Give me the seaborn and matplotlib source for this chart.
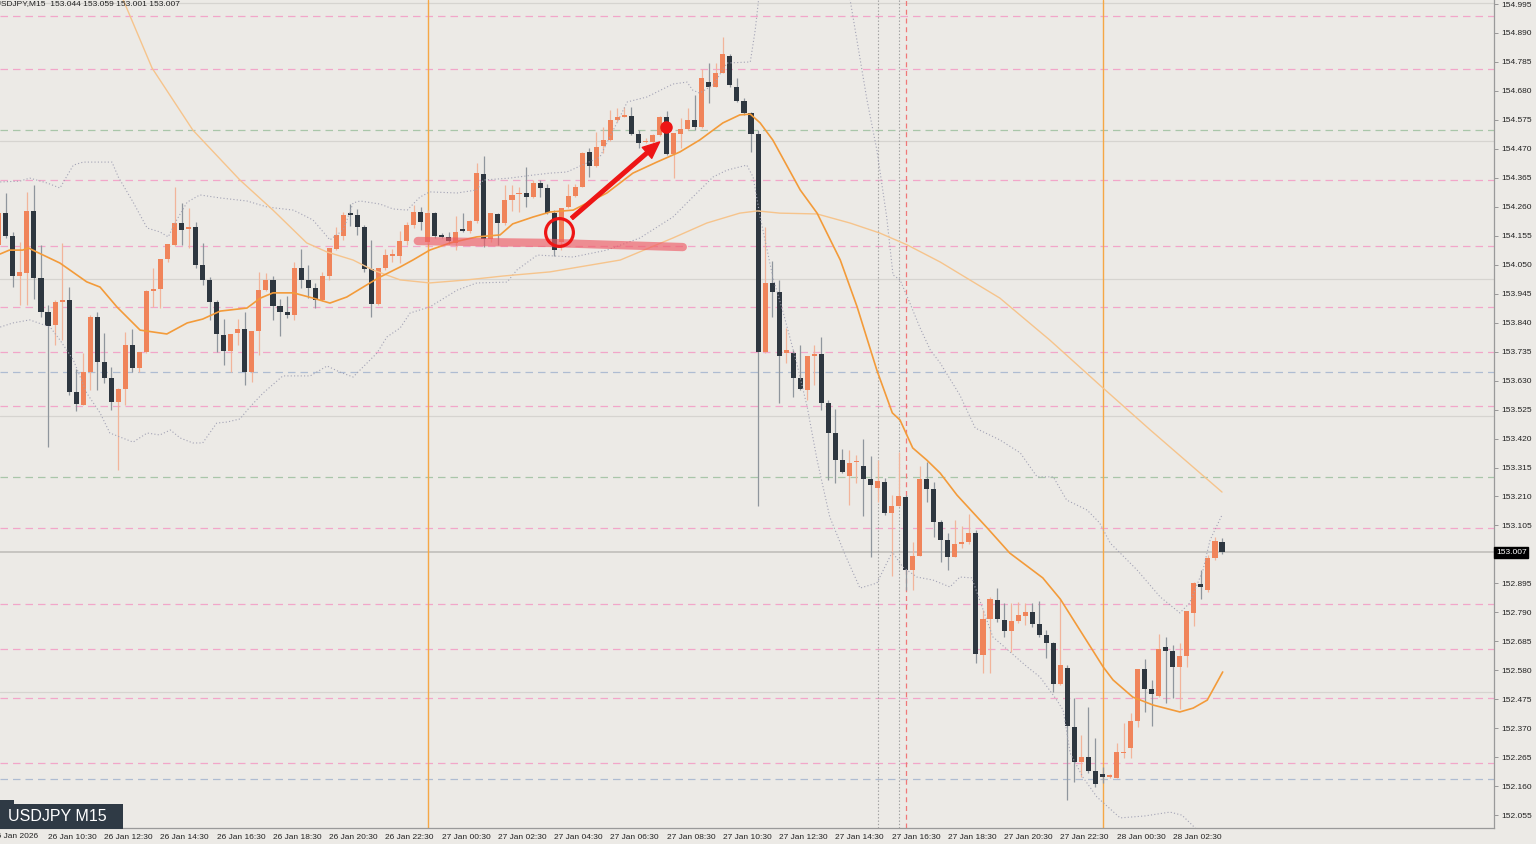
import numpy as np
import pandas as pd
import matplotlib
matplotlib.use("Agg")
import matplotlib.pyplot as plt
import matplotlib.transforms as mtransforms
from matplotlib.patches import Rectangle
import seaborn as sns

# ---- candles (M15), bar 0 = 26 Jan 10:30 ----
bar_idx = np.arange(-7, 168)
opens = [154.122, 154.239, 154.155, 154.009, 154.019, 154.244, 154.001, 153.877, 153.832, 153.914,
         153.922, 153.589, 153.543, 153.661, 153.861, 153.698, 153.638, 153.554, 153.600, 153.759,
         153.674, 153.734, 153.955, 153.961, 154.071, 154.122, 154.201, 154.179, 154.187, 154.049,
         153.993, 153.915, 153.795, 153.739, 153.804, 153.817, 153.662, 153.810, 153.958, 153.995,
         153.900, 153.880, 153.868, 154.039, 153.995, 153.965, 153.922, 154.009, 154.107, 154.154,
         154.237, 154.230, 154.186, 154.035, 153.908, 154.037, 154.082, 154.082, 154.136, 154.194,
         154.242, 154.133, 154.237, 154.154, 154.152, 154.128, 154.176, 154.172, 154.208, 154.378,
         154.142, 154.233, 154.200, 154.285, 154.305, 154.309, 154.297, 154.345, 154.327, 154.239,
         154.133, 154.261, 154.299, 154.333, 154.459, 154.409, 154.480, 154.502, 154.575, 154.587,
         154.590, 154.524, 154.494, 154.494, 154.520, 154.584, 154.451, 154.523, 154.541, 154.575,
         154.550, 154.711, 154.695, 154.746, 154.807, 154.693, 154.645, 154.599, 154.524, 153.735,
         153.985, 153.952, 153.729, 153.729, 153.638, 153.596, 153.719, 153.725, 153.550, 153.439,
         153.342, 153.284, 153.334, 153.320, 153.273, 153.240, 153.264, 153.149, 153.176, 153.209,
         152.943, 152.995, 153.272, 153.237, 153.116, 153.052, 152.990, 153.037, 153.045, 153.078,
         152.635, 152.765, 152.835, 152.762, 152.724, 152.760, 152.778, 152.792, 152.748, 152.708,
         152.680, 152.530, 152.587, 152.376, 152.247, 152.267, 152.216, 152.203, 152.192, 152.189,
         152.279, 152.297, 152.397, 152.585, 152.511, 152.487, 152.666, 152.651, 152.593, 152.632,
         152.789, 152.893, 152.871, 152.987, 153.044]
highs = [154.267, 154.311, 154.170, 154.133, 154.315, 154.339, 154.122, 153.904, 153.922, 154.128,
         153.970, 153.671, 153.730, 153.868, 153.880, 153.802, 153.680, 153.603, 153.807, 153.816,
         153.735, 153.958, 154.037, 154.070, 154.125, 154.333, 154.273, 154.255, 154.206, 154.128,
         154.004, 153.922, 153.855, 153.799, 153.855, 153.880, 153.810, 154.025, 154.020, 154.008,
         153.926, 153.937, 154.060, 154.106, 154.049, 153.985, 154.025, 154.112, 154.188, 154.242,
         154.271, 154.252, 154.194, 154.140, 154.038, 154.106, 154.107, 154.173, 154.205, 154.266,
         154.260, 154.248, 154.240, 154.164, 154.170, 154.227, 154.236, 154.212, 154.420, 154.444,
         154.238, 154.237, 154.339, 154.339, 154.333, 154.403, 154.357, 154.357, 154.343, 154.248,
         154.254, 154.343, 154.343, 154.460, 154.472, 154.532, 154.550, 154.611, 154.617, 154.623,
         154.623, 154.538, 154.509, 154.524, 154.589, 154.608, 154.526, 154.581, 154.617, 154.665,
         154.758, 154.782, 154.780, 154.874, 154.814, 154.726, 154.654, 154.605, 154.538, 154.188,
         154.064, 153.995, 153.819, 153.741, 153.759, 153.720, 153.759, 153.789, 153.560, 153.526,
         153.381, 153.378, 153.360, 153.417, 153.357, 153.342, 153.277, 153.215, 153.372, 153.215,
         153.046, 153.321, 153.336, 153.264, 153.125, 153.076, 153.125, 153.103, 153.147, 153.089,
         152.799, 152.847, 152.877, 152.823, 152.823, 152.829, 152.823, 152.823, 152.831, 152.726,
         152.684, 152.837, 152.599, 152.478, 152.346, 152.448, 152.336, 152.231, 152.204, 152.318,
         152.390, 152.424, 152.586, 152.620, 152.545, 152.712, 152.702, 152.672, 152.680, 152.796,
         152.901, 152.944, 152.998, 153.063, 153.059]
lows = [154.103, 154.147, 153.968, 153.904, 153.904, 153.925, 153.861, 153.390, 153.759, 153.777,
        153.578, 153.521, 153.540, 153.596, 153.596, 153.620, 153.524, 153.306, 153.541, 153.662,
        153.662, 153.730, 153.896, 153.892, 154.061, 154.118, 154.122, 154.110, 154.037, 153.977,
        153.850, 153.735, 153.686, 153.662, 153.759, 153.614, 153.624, 153.723, 153.955, 153.850,
        153.792, 153.856, 153.850, 153.965, 153.928, 153.892, 153.920, 153.995, 154.103, 154.140,
        154.190, 154.158, 154.024, 153.861, 153.904, 154.031, 154.060, 154.055, 154.122, 154.183,
        154.176, 154.125, 154.146, 154.146, 154.125, 154.103, 154.169, 154.165, 154.201, 154.115,
        154.132, 154.122, 154.194, 154.245, 154.242, 154.260, 154.292, 154.297, 154.234, 154.082,
        154.103, 154.256, 154.297, 154.331, 154.369, 154.405, 154.454, 154.500, 154.568, 154.584,
        154.522, 154.472, 154.490, 154.490, 154.517, 154.448, 154.363, 154.472, 154.538, 154.538,
        154.544, 154.637, 154.694, 154.744, 154.695, 154.641, 154.593, 154.460, 153.176, 153.729,
        153.861, 153.550, 153.693, 153.572, 153.596, 153.560, 153.614, 153.524, 153.270, 153.258,
        153.294, 153.179, 153.258, 153.139, 152.990, 153.191, 153.143, 152.922, 153.174, 152.871,
        152.871, 152.994, 153.191, 153.064, 152.974, 152.943, 152.989, 153.022, 153.038, 152.605,
        152.569, 152.569, 152.754, 152.702, 152.647, 152.750, 152.744, 152.736, 152.702, 152.623,
        152.502, 152.527, 152.110, 152.176, 152.194, 152.207, 152.158, 152.170, 152.189, 152.188,
        152.261, 152.261, 152.376, 152.430, 152.378, 152.485, 152.460, 152.478, 152.439, 152.593,
        152.741, 152.837, 152.864, 152.980, 153.001]
closes = [154.239, 154.155, 154.009, 154.025, 154.244, 154.001, 153.877, 153.828, 153.914, 153.922,
          153.590, 153.545, 153.662, 153.861, 153.698, 153.638, 153.554, 153.600, 153.759, 153.674,
          153.735, 153.956, 153.962, 154.070, 154.125, 154.202, 154.176, 154.187, 154.049, 153.995,
          153.916, 153.798, 153.739, 153.799, 153.817, 153.662, 153.810, 153.958, 153.995, 153.900,
          153.880, 153.868, 154.039, 153.995, 153.965, 153.922, 154.009, 154.112, 154.158, 154.230,
          154.230, 154.186, 154.035, 153.908, 154.037, 154.085, 154.085, 154.136, 154.194, 154.242,
          154.206, 154.237, 154.154, 154.152, 154.137, 154.170, 154.172, 154.208, 154.382, 154.142,
          154.237, 154.200, 154.285, 154.303, 154.311, 154.297, 154.345, 154.327, 154.239, 154.103,
          154.254, 154.299, 154.333, 154.454, 154.409, 154.476, 154.502, 154.575, 154.584, 154.590,
          154.524, 154.492, 154.500, 154.520, 154.587, 154.451, 154.526, 154.541, 154.575, 154.550,
          154.726, 154.695, 154.746, 154.814, 154.701, 154.645, 154.599, 154.524, 153.733, 153.985,
          153.952, 153.720, 153.741, 153.638, 153.598, 153.720, 153.725, 153.550, 153.439, 153.342,
          153.298, 153.332, 153.339, 153.272, 153.252, 153.266, 153.149, 153.176, 153.213, 152.943,
          152.995, 153.272, 153.237, 153.116, 153.052, 152.990, 153.038, 153.045, 153.077, 152.639,
          152.765, 152.837, 152.766, 152.724, 152.759, 152.780, 152.792, 152.748, 152.708, 152.680,
          152.530, 152.599, 152.379, 152.247, 152.267, 152.216, 152.168, 152.192, 152.202, 152.285,
          152.285, 152.397, 152.586, 152.511, 152.494, 152.657, 152.651, 152.593, 152.632, 152.796,
          152.895, 152.883, 152.987, 153.049, 153.007]

# ---- indicators (bar index, price) ----
fast_ma_x = [-6.8, -5.5, -3.6, -2.8, -1.6, 1.7, 5.5, 7.4, 9.8, 13.1, 16.9, 19.8, 22.0, 24.5, 28.3,
             30.2, 32.0, 34.9, 37.7, 40.1, 42.5, 45.8, 47.2, 50.1, 51.9, 54.3, 57.2, 61.0, 64.3,
             66.1, 69.0, 71.4, 74.7, 79.5, 83.2, 86.6, 89.9, 92.7, 96.0, 98.4, 99.9, 101.3, 103.1,
             107.0, 109.4, 112.7, 115.1, 117.9, 120.1, 121.2, 123.0, 125.0, 126.9, 129.3, 133.6,
             136.8, 141.5, 144.0, 150.1, 151.5, 154.3, 157.2, 161.0, 162.9, 164.9, 167.1]
fast_ma_y = [154.089, 154.103, 154.103, 154.111, 154.096, 154.056, 153.988, 153.969, 153.897,
             153.813, 153.799, 153.839, 153.853, 153.882, 153.893, 153.929, 153.948, 153.948,
             153.929, 153.911, 153.933, 153.984, 154.005, 154.042, 154.067, 154.103, 154.129,
             154.151, 154.158, 154.198, 154.223, 154.241, 154.248, 154.310, 154.382, 154.422,
             154.459, 154.502, 154.564, 154.593, 154.596, 154.564, 154.502, 154.321, 154.237,
             154.067, 153.897, 153.668, 153.513, 153.487, 153.386, 153.342, 153.295, 153.215,
             153.096, 153.005, 152.915, 152.838, 152.592, 152.545, 152.483, 152.454, 152.429,
             152.443, 152.472, 152.574]

slow_ma_x = [10.4, 14.8, 20.6, 27.3, 32.0, 36.8, 39.7, 43.4, 46.2, 50.1, 54.3, 59.6, 64.7, 71.4,
             81.4, 88.9, 93.7, 98.4, 100.9, 104.1, 109.4, 114.1, 118.3, 122.2, 126.9, 135.4, 142.5,
             149.6, 156.8, 167.0]
slow_ma_y = [155.028, 154.763, 154.538, 154.357, 154.248, 154.129, 154.096, 154.067, 154.031,
             153.995, 153.984, 153.995, 154.009, 154.024, 154.067, 154.147, 154.201, 154.237,
             154.245, 154.237, 154.234, 154.201, 154.165, 154.122, 154.060, 153.929, 153.777,
             153.614, 153.451, 153.226]

band_up_x = [-6.8, -4.0, -2.6, -0.1, 1.7, 3.6, 5.0, 9.1, 10.0, 12.1, 14.1, 15.9, 17.1, 18.3, 19.8,
             21.6, 24.5, 28.3, 31.2, 34.9, 37.7, 40.1, 42.0, 43.4, 44.4, 47.2, 49.1, 51.1, 52.9,
             54.3, 58.2, 61.0, 61.9, 65.7, 69.0, 71.4, 73.8, 78.5, 82.4, 85.2, 88.9, 90.9, 91.7,
             92.7, 94.6, 96.6, 99.9, 100.6, 101.7, 112.7, 114.1, 116.5, 117.9, 119.3, 120.2, 121.2,
             122.6, 124.0, 125.5, 126.9, 129.7, 131.9, 135.4, 138.3, 140.7, 143.0, 144.9, 147.8,
             149.6, 151.1, 154.9, 158.2, 161.0, 162.4, 164.3, 165.3, 167.0]
band_up_y = [154.350, 154.353, 154.364, 154.346, 154.328, 154.411, 154.422, 154.422, 154.368,
             154.277, 154.183, 154.169, 154.151, 154.212, 154.277, 154.303, 154.292, 154.281,
             154.259, 154.248, 154.212, 154.140, 154.176, 154.274, 154.281, 154.270, 154.252,
             154.248, 154.295, 154.314, 154.310, 154.321, 154.357, 154.364, 154.375, 154.382,
             154.386, 154.440, 154.640, 154.658, 154.705, 154.712, 154.683, 154.672, 154.701,
             154.781, 154.785, 154.901, 155.154, 155.154, 155.010, 154.647, 154.466, 154.223,
             154.013, 153.995, 153.911, 153.824, 153.741, 153.694, 153.578, 153.458, 153.415,
             153.368, 153.281, 153.281, 153.197, 153.161, 153.114, 153.041, 152.944, 152.846,
             152.788, 152.824, 152.944, 153.052, 153.143]

band_lo_x = [-6.8, -5.0, -2.6, 0.3, 1.7, 3.6, 5.5, 7.4, 8.8, 12.1, 14.1, 15.9, 17.4, 18.8, 20.6,
             22.0, 24.0, 25.5, 27.3, 28.7, 30.6, 33.4, 37.3, 39.7, 41.5, 43.4, 44.8, 46.8, 48.2,
             50.1, 51.5, 54.3, 58.2, 61.0, 65.3, 66.7, 69.6, 74.7, 79.5, 84.2, 88.9, 91.7, 94.6,
             96.6, 99.4, 100.3, 101.3, 102.3, 103.1, 104.6, 106.5, 108.0, 109.4, 111.2, 113.4,
             115.5, 117.9, 120.1, 121.6, 123.6, 125.9, 128.3, 129.7, 131.4, 134.4, 139.3, 141.1,
             143.5, 144.4, 145.4, 147.2, 149.2, 152.5, 156.0, 159.6, 161.3, 163.2, 164.6]
band_lo_y = [153.824, 153.839, 153.850, 153.824, 153.777, 153.705, 153.585, 153.513, 153.440,
             153.407, 153.440, 153.433, 153.451, 153.422, 153.404, 153.404, 153.476, 153.480,
             153.491, 153.534, 153.585, 153.647, 153.647, 153.683, 153.661, 153.643, 153.679,
             153.730, 153.788, 153.821, 153.875, 153.897, 153.958, 153.984, 153.987, 154.031,
             154.085, 154.078, 154.103, 154.147, 154.223, 154.295, 154.368, 154.393, 154.411,
             154.368, 154.223, 154.103, 154.005, 153.875, 153.694, 153.534, 153.342, 153.136,
             152.998, 152.878, 152.896, 153.009, 152.954, 152.918, 152.907, 152.882, 152.918,
             152.915, 152.701, 152.592, 152.556, 152.472, 152.436, 152.280, 152.193, 152.121,
             152.045, 152.052, 152.066, 152.055, 152.008, 151.947]

# ---- horizontal levels ----
pink_levels = [154.952, 154.759, 154.357, 154.118, 153.895, 153.735, 153.538,
               153.096, 152.820, 152.657, 152.480, 152.244]
green_levels = [154.538, 153.281]
blue_levels = [153.661, 152.186]
round_levels = [154.500, 154.000, 153.500, 152.500]
last_price = 153.007

day_breaks = [54, 150]
dotted_vlines = [118.05, 121.05]
red_vline = 122.05

# ---- axis labels ----
price_ticks = [152.055 + 0.105 * k for k in range(29)]
time_ticks = list(range(0, 161, 8))
time_labels = ["26 Jan 10:30", "26 Jan 12:30", "26 Jan 14:30", "26 Jan 16:30", "26 Jan 18:30",
               "26 Jan 20:30", "26 Jan 22:30", "27 Jan 00:30", "27 Jan 02:30", "27 Jan 04:30",
               "27 Jan 06:30", "27 Jan 08:30", "27 Jan 10:30", "27 Jan 12:30", "27 Jan 14:30",
               "27 Jan 16:30", "27 Jan 18:30", "27 Jan 20:30", "27 Jan 22:30", "28 Jan 00:30",
               "28 Jan 02:30"]

# ---- hand-drawn markup ----
mark_line_x = [52.6, 61.5, 71.4, 81.4, 90.3]
mark_line_y = [154.136, 154.132, 154.129, 154.121, 154.114]
circle_pt = (72.7, 154.169)
arrow_from = (74.5, 154.219)
arrow_to = (87.0, 154.495)
dot_pt = (87.9, 154.549)

BG = "#ECEAE6"
BULL, BULL_WICK = "#F0845A", "#F2B49A"
BEAR, BEAR_WICK = "#2E3740", "#8F969D"
RED = "#EE1515"

sns.set_theme(style="white", rc={"axes.facecolor": BG, "figure.facecolor": BG})
plt.rcParams["font.family"] = ["Liberation Sans", "DejaVu Sans"]

W, H = 1536, 844
fig = plt.figure(figsize=(W / 100, H / 100), dpi=100)
ax = fig.add_axes([0, 16 / H, 1494 / W, 828 / H])
ax.set_facecolor(BG)

# levels
for y in pink_levels:
    ax.axhline(y, color="#F2A6C9", lw=0.9, ls=(0, (6, 4)), zorder=1)
for y in green_levels:
    ax.axhline(y, color="#A9C6A9", lw=0.9, ls=(0, (6, 4)), zorder=1)
for y in blue_levels:
    ax.axhline(y, color="#AEBCD2", lw=0.9, ls=(0, (6, 4)), zorder=1)
for y in round_levels:
    ax.axhline(y, color="#D6D4D0", lw=0.9, zorder=1)
ax.axhline(last_price, color="#C4C2BE", lw=1.3, zorder=1)
ax.axhline(155.0004, color="#D6D4D0", lw=0.9, zorder=1)

for xv in day_breaks:
    ax.axvline(xv, color="#F5A745", lw=1.0, zorder=1)
for xv in dotted_vlines:
    ax.axvline(xv, color="#9E9E9E", lw=0.8, ls=(0, (1.2, 1.8)), zorder=1)
ax.axvline(red_vline, color="#F07878", lw=0.9, ls=(0, (4, 3)), zorder=1)

# candles
df = pd.DataFrame({"i": bar_idx, "o": opens, "h": highs, "l": lows, "c": closes})
up = df["c"] >= df["o"]
ax.vlines(df.loc[up, "i"], df.loc[up, "l"], df.loc[up, "h"], color=BULL_WICK, lw=0.9, zorder=2)
ax.vlines(df.loc[~up, "i"], df.loc[~up, "l"], df.loc[~up, "h"], color=BEAR_WICK, lw=0.9, zorder=2)
body_lo = np.minimum(df["o"], df["c"])
body_h = np.maximum((df["c"] - df["o"]).abs(), 0.006)
ax.bar(df["i"], body_h, bottom=body_lo, width=0.72,
       color=np.where(up, BULL, BEAR), linewidth=0, zorder=3)

# indicators
sns.lineplot(x=band_up_x, y=band_up_y, ax=ax, color="#A3A3B5", lw=0.8,
             linestyle=(0, (1, 2)), estimator=None, sort=False, zorder=4)
sns.lineplot(x=band_lo_x, y=band_lo_y, ax=ax, color="#A3A3B5", lw=0.8,
             linestyle=(0, (1, 2)), estimator=None, sort=False, zorder=4)
sns.lineplot(x=slow_ma_x, y=slow_ma_y, ax=ax, color="#F6C48C", lw=1.0,
             estimator=None, sort=False, zorder=4)
sns.lineplot(x=fast_ma_x, y=fast_ma_y, ax=ax, color="#F39B3A", lw=1.2,
             estimator=None, sort=False, zorder=4)

# markup
ax.plot(mark_line_x, mark_line_y, color="#EF5B66", alpha=0.65, lw=6,
        solid_capstyle="round", zorder=5)
ax.plot(*circle_pt, marker="o", ms=20, mfc="none", mec=RED, mew=2.3, zorder=6)
ax.annotate("", xy=arrow_to, xytext=arrow_from, zorder=6,
            arrowprops=dict(arrowstyle="simple,head_length=0.75,head_width=0.65,tail_width=0.16",
                            color=RED, mutation_scale=16, shrinkA=0, shrinkB=0))
ax.plot(*dot_pt, marker="o", ms=8, color=RED, zorder=6)

# axes
ax.set_xlim(-6.83, 205.69)
ax.set_ylim(152.0084, 155.0095)
for s in ["left", "top"]:
    ax.spines[s].set_visible(False)
for s in ["right", "bottom"]:
    ax.spines[s].set_color("#9A9A9A")
    ax.spines[s].set_linewidth(0.9)

# the label next to the last price hides the tick label it sits on
ax.yaxis.tick_right()
ax.set_yticks(price_ticks)
ax.set_yticklabels(["" if abs(p - last_price) < 0.03 else f"{p:.3f}" for p in price_ticks])
ax.tick_params(axis="y", length=3, width=0.6, color="#8A8A8A", pad=2,
               labelsize=6, labelcolor="#222222")
ax.set_xticks(time_ticks)
ax.set_xticklabels(time_labels, ha="left")
ax.tick_params(axis="x", length=3, width=0.6, color="#8A8A8A", pad=1.5,
               labelsize=6, labelcolor="#222222")
ax.set_xlabel("")
ax.set_ylabel("")

tr = mtransforms.blended_transform_factory(ax.transData, ax.transAxes)
ax.text(-8, -5 / 828, "26 Jan 2026", transform=tr, fontsize=6, color="#222222",
        ha="left", va="top", clip_on=False)

tr_y = mtransforms.blended_transform_factory(ax.transAxes, ax.transData)
ax.text(1 + 2 / 1494, last_price, f"{last_price:.3f}", transform=tr_y, fontsize=6,
        color="white", ha="left", va="center", clip_on=False, zorder=10,
        bbox=dict(boxstyle="square,pad=0.22", fc="black", ec="black"))

# header and symbol box
fig.text(-5 / W, 1 - 4 / H, "USDJPY,M15  153.044 153.059 153.001 153.007",
         fontsize=6.0, color="#222222", ha="left", va="center")
fig.add_artist(Rectangle((0, 15 / H), 123 / W, 25 / H, transform=fig.transFigure,
                         fc="#2F3A45", ec="none"))
fig.add_artist(Rectangle((0, 38 / H), 14 / W, 6 / H, transform=fig.transFigure,
                         fc="#2F3A45", ec="none"))
fig.text(8 / W, 27.5 / H, "USDJPY M15", fontsize=11.5, color="white",
         ha="left", va="center")

fig.savefig("out.png", dpi=100, facecolor=BG)
